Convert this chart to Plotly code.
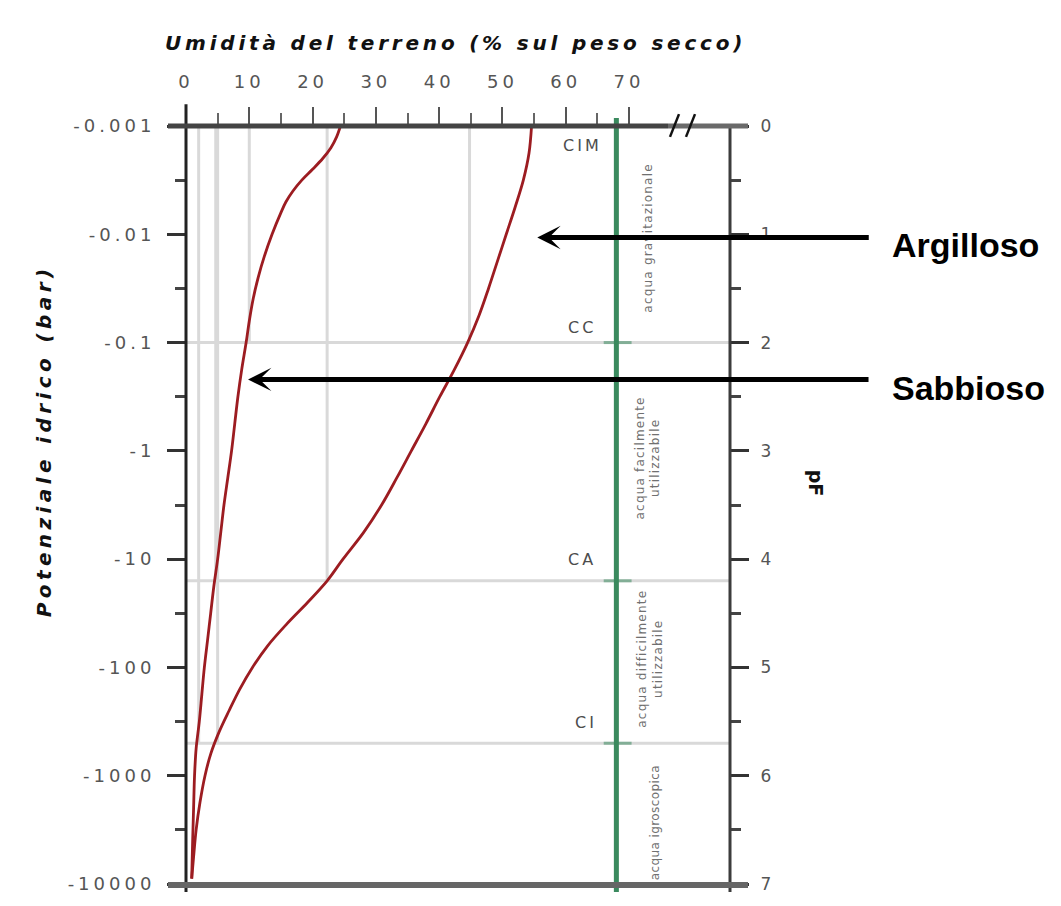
import plotly.graph_objects as go

# ---- data -------------------------------------------------------------
# Water-retention curves: pF (log10 of suction, cm H2O) vs soil moisture
clay_pf = [0.0, 0.25, 0.5, 0.75, 1.0, 1.25, 1.5, 1.75, 2.0, 2.25, 2.5, 2.75,
           3.0, 3.25, 3.5, 3.75, 4.0, 4.2, 4.4, 4.6, 4.8, 5.0, 5.2, 5.4,
           5.6, 5.8, 6.0, 6.25, 6.5, 6.75, 6.95]
clay_moist = [54.6, 54.2, 53.3, 52.0, 50.6, 49.2, 47.8, 46.3, 44.5, 42.4, 40.1, 37.9,
              35.6, 33.3, 30.9, 28.1, 24.8, 22.3, 19.2, 15.9, 12.9, 10.5, 8.5, 6.8,
              5.2, 3.9, 3.0, 2.2, 1.6, 1.2, 0.9]

sand_pf = [0.0, 0.1, 0.2, 0.3, 0.4, 0.5, 0.6, 0.7, 0.8, 1.0, 1.2, 1.4, 1.6,
           1.8, 2.0, 2.25, 2.5, 2.75, 3.0, 3.25, 3.5, 3.75, 4.0, 4.25, 4.5,
           4.75, 5.0, 5.25, 5.5, 5.75, 6.0, 6.3, 6.6, 6.95]
sand_moist = [24.4, 23.8, 22.9, 21.6, 20.0, 18.3, 16.9, 15.8, 15.0, 13.6, 12.4, 11.4, 10.6,
              10.0, 9.5, 8.8, 8.2, 7.7, 7.2, 6.6, 6.0, 5.5, 5.0, 4.4, 3.9,
              3.4, 2.9, 2.5, 2.1, 1.6, 1.35, 1.2, 1.05, 0.9]

# Hydrological constants (pF) and the moisture of each soil at CC, CA, CI
level_names = ["CIM", "CC", "CA", "CI"]
level_pf = [0.0, 2.0, 4.2, 5.7]
sand_at_levels = [10.0, 4.7, 2.0]
clay_at_levels = [44.8, 22.3, 5.0]

# Axis ticks
pf_ticks = [0, 1, 2, 3, 4, 5, 6, 7]
potential_labels = ["-0.001", "-0.01", "-0.1", "-1", "-10", "-100", "-1000", "-10000"]
moisture_ticks = [0, 10, 20, 30, 40, 50, 60, 70]
moisture_minor = [5, 15, 25, 35, 45, 55, 65]
pf_minor = [0.5, 1.5, 2.5, 3.5, 4.5, 5.5, 6.5]

# Water classes between the constants
zone_texts = ["acqua gravitazionale",
              "acqua facilmente<br>utilizzabile",
              "acqua difficilmente<br>utilizzabile",
              "acqua igroscopica"]
zone_pf = [1.04, 3.07, 4.92, 6.43]
zone_x = [73.0, 73.0, 73.3, 74.1]
zone_spacing = [1.2, 1.2, 1.2, 0.4]
scale_x = 68.0          # vertical reference scale of the constants

# ---- geometry -----------------------------------------------------------
W, H = 1061, 906
ML, MR, MT, MB = 186, 331, 126, 13
PW, PH = W - ML - MR, H - MT - MB
X_MAX = PW / 6.329


def px(xp):
    return (xp - ML) / PW


def py(yp):
    return (H - MB - yp) / PH


def spaced(txt, sp):
    return f'<span style="letter-spacing:{sp}px">{txt}</span>'


RED = "#9c1c21"
GRID = "#d9d9d9"
GREEN = "#3a8a5e"

fig = go.Figure()

fig.add_trace(go.Scatter(x=clay_moist, y=clay_pf, mode="lines",
                         line=dict(color=RED, width=2.8, shape="spline", smoothing=1.0),
                         showlegend=False, hoverinfo="skip"))
fig.add_trace(go.Scatter(x=sand_moist, y=sand_pf, mode="lines",
                         line=dict(color=RED, width=2.8, shape="spline", smoothing=1.0),
                         showlegend=False, hoverinfo="skip"))
fig.add_trace(go.Scatter(x=[None], y=[None], yaxis="y2", showlegend=False))

shapes = []
# horizontal lines at CC, CA, CI
for p in level_pf[1:]:
    shapes.append(dict(type="line", xref="x", yref="y", x0=0, x1=X_MAX, y0=p, y1=p,
                       line=dict(color=GRID, width=3), layer="below"))
# vertical drop lines for each soil at each constant
for vals in (sand_at_levels, clay_at_levels):
    for v, p in zip(vals, level_pf[1:]):
        shapes.append(dict(type="line", xref="x", yref="y", x0=v, x1=v, y0=0, y1=p,
                           line=dict(color=GRID, width=3), layer="below"))
# vertical scale of constants
shapes.append(dict(type="line", xref="x", yref="paper", x0=scale_x, x1=scale_x,
                   y0=py(901), y1=py(118), line=dict(color=GREEN, width=5), layer="above"))
for p in level_pf:
    shapes.append(dict(type="line", xref="x", yref="y", x0=scale_x - 2.0, x1=scale_x + 2.4,
                       y0=p, y1=p, line=dict(color="rgba(58,138,94,0.55)", width=3),
                       layer="above"))
# frame lines
shapes += [
    dict(type="line", xref="paper", yref="paper", x0=px(186), x1=px(186),
         y0=py(901), y1=py(104), line=dict(color="#222", width=3)),
    dict(type="line", xref="paper", yref="paper", x0=px(730), x1=px(730),
         y0=py(901), y1=py(128), line=dict(color="#3c3c3c", width=3)),
    dict(type="line", xref="paper", yref="paper", x0=px(168), x1=px(668),
         y0=py(126), y1=py(126), line=dict(color="#444", width=5)),
    dict(type="line", xref="paper", yref="paper", x0=px(668), x1=px(748),
         y0=py(126), y1=py(126), line=dict(color="#6a6a6a", width=5)),
    dict(type="line", xref="paper", yref="paper", x0=px(168), x1=px(748),
         y0=py(894), y1=py(894), line=dict(color="#666", width=6)),
    # axis break marks
    dict(type="line", xref="paper", yref="paper", x0=px(670), x1=px(679),
         y0=py(137), y1=py(114), line=dict(color="#111", width=2.5)),
    dict(type="line", xref="paper", yref="paper", x0=px(686), x1=px(695),
         y0=py(137), y1=py(114), line=dict(color="#111", width=2.5)),
]

ann = []
tick_font = dict(family="DejaVu Sans", size=18, color="#555")
ann.append(dict(text=spaced("Umidità del terreno (% sul peso secco)", 3.8),
                xref="paper", yref="paper", x=px(455), y=py(28), showarrow=False,
                font=dict(family="DejaVu Sans", size=20, color="#111", weight="bold", style="italic")))
ann.append(dict(text=spaced("Potenziale idrico (bar)", 4.4), textangle=-90,
                xref="paper", yref="paper", x=px(30), y=py(445), showarrow=False,
                font=dict(family="DejaVu Sans", size=20, color="#111", weight="bold", style="italic")))
ann.append(dict(text="pF", textangle=90, xref="paper", yref="paper", x=px(829), y=py(487),
                showarrow=False,
                font=dict(family="DejaVu Sans", size=19, color="#111", weight="bold")))

label_pos = [(62.7, 0.18), (62.6, 1.86), (62.6, 4.0), (63.2, 5.51)]
for name, (lx, lp) in zip(level_names, label_pos):
    ann.append(dict(text=spaced(name, 3), xref="x", yref="y", x=lx, y=lp, showarrow=False,
                    font=dict(family="DejaVu Sans", size=16, color="#4d4d4d")))

for t, zx, zp, zs in zip(zone_texts, zone_x, zone_pf, zone_spacing):
    ann.append(dict(text=spaced(t, zs), textangle=-90, xref="x", yref="y", x=zx, y=zp,
                    showarrow=False,
                    font=dict(family="DejaVu Sans", size=12, color="#707070")))

# pointers to the two curves
for head_x, head_pf, tail_dx, label, label_pf in [(55.5, 1.03, 333, "Argilloso", 1.1),
                                                  (9.8, 2.34, 622, "Sabbioso", 2.42)]:
    ann.append(dict(text="", xref="x", yref="y", x=head_x, y=head_pf, ax=tail_dx, ay=0,
                    showarrow=True, arrowhead=3, arrowsize=0.78, arrowwidth=5,
                    arrowcolor="#000", standoff=0))
    ann.append(dict(text=label, xref="paper", yref="y", x=px(890), y=label_pf,
                    xanchor="left", showarrow=False,
                    font=dict(family="Liberation Sans", size=34, color="#000", weight="bold")))

fig.update_layout(
    width=W, height=H,
    margin=dict(l=ML, r=MR, t=MT, b=MB),
    paper_bgcolor="white", plot_bgcolor="white",
    shapes=shapes, annotations=ann,
    xaxis=dict(range=[0, X_MAX], side="top", showgrid=False, zeroline=False, showline=False,
               tickmode="array", tickvals=moisture_ticks,
               ticktext=[spaced(str(v), 4) for v in moisture_ticks],
               ticks="outside", ticklen=18, tickwidth=2, tickcolor="#555",
               tickfont=tick_font, ticklabelstandoff=12,
               minor=dict(tickmode="array", tickvals=moisture_minor, ticks="outside",
                          ticklen=12, tickwidth=2, tickcolor="#666")),
    yaxis=dict(range=[7, 0], showgrid=False, zeroline=False, showline=False,
               tickmode="array", tickvals=pf_ticks,
               ticktext=[spaced(s, 4) for s in potential_labels],
               ticks="outside", ticklen=18, tickwidth=3, tickcolor="#333",
               tickfont=tick_font, ticklabelstandoff=8,
               minor=dict(tickmode="array", tickvals=pf_minor, ticks="outside",
                          ticklen=10, tickwidth=3, tickcolor="#444")),
    yaxis2=dict(range=[7, 0], overlaying="y", side="right", anchor="x",
                showgrid=False, zeroline=False, showline=False,
                tickmode="array", tickvals=pf_ticks, ticktext=[str(v) for v in pf_ticks],
                ticks="outside", ticklen=18, tickwidth=3, tickcolor="#333",
                tickfont=dict(family="DejaVu Sans", size=17, color="#555"), ticklabelstandoff=8,
                minor=dict(tickmode="array", tickvals=pf_minor, ticks="outside",
                           ticklen=10, tickwidth=3, tickcolor="#444")),
)

fig.write_html("out.html")
